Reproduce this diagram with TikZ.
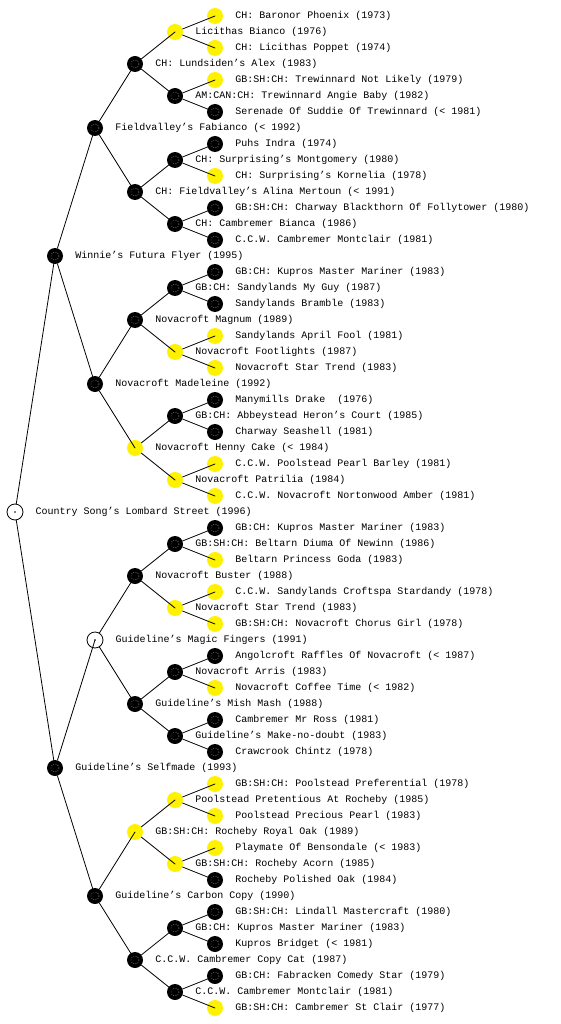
\documentclass[tikz,border=0pt]{standalone}
\usepackage{fontspec}
\setmonofont{Liberation Mono}
\usetikzlibrary{positioning}
\tikzset{
  dog/.style={circle,minimum size=16pt,inner sep=0pt},
  blk/.style={dog,fill=black,path picture={\draw[white,dotted,line width=0.4pt] (path picture bounding box.center) circle (4pt);}},
  yel/.style={dog,fill=yellow},
  wht/.style={dog,draw=black,line width=0.8pt,fill=white,path picture={\fill[black] (path picture bounding box.center) circle (0.8pt);}},
  lbl/.style={inner sep=0pt,anchor=west,font=\ttfamily\fontsize{10}{12}\selectfont},
  edge/.style={draw=black,line width=0.8pt}
}
\begin{document}
\begin{tikzpicture}[x=1pt,y=-1pt,line cap=round,line join=round]
\path[fill=white] (0,0) rectangle (560,1024);
% generation 0 and 1
\node[wht] (n) at (15,512) {}; \node[lbl,right=12pt of n] (t) {Country Song’s Lombard Street (1996)};
\node[blk] (ns) at (55,256) {}; \node[lbl,right=12pt of ns] (ts) {Winnie’s Futura Flyer (1995)};
\node[blk] (nd) at (55,768) {}; \node[lbl,right=12pt of nd] (td) {Guideline’s Selfmade (1993)};
% generation 2
\node[blk] (nss) at (95,128) {}; \node[lbl,right=12pt of nss] (tss) {Fieldvalley’s Fabianco (< 1992)};
\node[blk] (nsd) at (95,384) {}; \node[lbl,right=12pt of nsd] (tsd) {Novacroft Madeleine (1992)};
\node[wht] (nds) at (95,640) {}; \node[lbl,right=12pt of nds] (tds) {Guideline’s Magic Fingers (1991)};
\node[blk] (ndd) at (95,896) {}; \node[lbl,right=12pt of ndd] (tdd) {Guideline’s Carbon Copy (1990)};
% generation 3
\node[blk] (nsss) at (135,64) {}; \node[lbl,right=12pt of nsss] (tsss) {CH: Lundsiden’s Alex (1983)};
\node[blk] (nssd) at (135,192) {}; \node[lbl,right=12pt of nssd] (tssd) {CH: Fieldvalley’s Alina Mertoun (< 1991)};
\node[blk] (nsds) at (135,320) {}; \node[lbl,right=12pt of nsds] (tsds) {Novacroft Magnum (1989)};
\node[yel] (nsdd) at (135,448) {}; \node[lbl,right=12pt of nsdd] (tsdd) {Novacroft Henny Cake (< 1984)};
\node[blk] (ndss) at (135,576) {}; \node[lbl,right=12pt of ndss] (tdss) {Novacroft Buster (1988)};
\node[blk] (ndsd) at (135,704) {}; \node[lbl,right=12pt of ndsd] (tdsd) {Guideline’s Mish Mash (1988)};
\node[yel] (ndds) at (135,832) {}; \node[lbl,right=12pt of ndds] (tdds) {GB:SH:CH: Rocheby Royal Oak (1989)};
\node[blk] (nddd) at (135,960) {}; \node[lbl,right=12pt of nddd] (tddd) {C.C.W. Cambremer Copy Cat (1987)};
% generation 4
\node[yel] (nssss) at (175,32) {}; \node[lbl,right=12pt of nssss] (tssss) {Licithas Bianco (1976)};
\node[blk] (nsssd) at (175,96) {}; \node[lbl,right=12pt of nsssd] (tsssd) {AM:CAN:CH: Trewinnard Angie Baby (1982)};
\node[blk] (nssds) at (175,160) {}; \node[lbl,right=12pt of nssds] (tssds) {CH: Surprising’s Montgomery (1980)};
\node[blk] (nssdd) at (175,224) {}; \node[lbl,right=12pt of nssdd] (tssdd) {CH: Cambremer Bianca (1986)};
\node[blk] (nsdss) at (175,288) {}; \node[lbl,right=12pt of nsdss] (tsdss) {GB:CH: Sandylands My Guy (1987)};
\node[yel] (nsdsd) at (175,352) {}; \node[lbl,right=12pt of nsdsd] (tsdsd) {Novacroft Footlights (1987)};
\node[blk] (nsdds) at (175,416) {}; \node[lbl,right=12pt of nsdds] (tsdds) {GB:CH: Abbeystead Heron’s Court (1985)};
\node[yel] (nsddd) at (175,480) {}; \node[lbl,right=12pt of nsddd] (tsddd) {Novacroft Patrilia (1984)};
\node[blk] (ndsss) at (175,544) {}; \node[lbl,right=12pt of ndsss] (tdsss) {GB:SH:CH: Beltarn Diuma Of Newinn (1986)};
\node[yel] (ndssd) at (175,608) {}; \node[lbl,right=12pt of ndssd] (tdssd) {Novacroft Star Trend (1983)};
\node[blk] (ndsds) at (175,672) {}; \node[lbl,right=12pt of ndsds] (tdsds) {Novacroft Arris (1983)};
\node[blk] (ndsdd) at (175,736) {}; \node[lbl,right=12pt of ndsdd] (tdsdd) {Guideline’s Make-no-doubt (1983)};
\node[yel] (nddss) at (175,800) {}; \node[lbl,right=12pt of nddss] (tddss) {Poolstead Pretentious At Rocheby (1985)};
\node[yel] (nddsd) at (175,864) {}; \node[lbl,right=12pt of nddsd] (tddsd) {GB:SH:CH: Rocheby Acorn (1985)};
\node[blk] (nddds) at (175,928) {}; \node[lbl,right=12pt of nddds] (tddds) {GB:CH: Kupros Master Mariner (1983)};
\node[blk] (ndddd) at (175,992) {}; \node[lbl,right=12pt of ndddd] (tdddd) {C.C.W. Cambremer Montclair (1981)};
% generation 5
\node[yel] (nsssss) at (215,16) {}; \node[lbl,right=12pt of nsssss] (tsssss) {CH: Baronor Phoenix (1973)};
\node[yel] (nssssd) at (215,48) {}; \node[lbl,right=12pt of nssssd] (tssssd) {CH: Licithas Poppet (1974)};
\node[yel] (nsssds) at (215,80) {}; \node[lbl,right=12pt of nsssds] (tsssds) {GB:SH:CH: Trewinnard Not Likely (1979)};
\node[blk] (nsssdd) at (215,112) {}; \node[lbl,right=12pt of nsssdd] (tsssdd) {Serenade Of Suddie Of Trewinnard (< 1981)};
\node[blk] (nssdss) at (215,144) {}; \node[lbl,right=12pt of nssdss] (tssdss) {Puhs Indra (1974)};
\node[yel] (nssdsd) at (215,176) {}; \node[lbl,right=12pt of nssdsd] (tssdsd) {CH: Surprising’s Kornelia (1978)};
\node[blk] (nssdds) at (215,208) {}; \node[lbl,right=12pt of nssdds] (tssdds) {GB:SH:CH: Charway Blackthorn Of Follytower (1980)};
\node[blk] (nssddd) at (215,240) {}; \node[lbl,right=12pt of nssddd] (tssddd) {C.C.W. Cambremer Montclair (1981)};
\node[blk] (nsdsss) at (215,272) {}; \node[lbl,right=12pt of nsdsss] (tsdsss) {GB:CH: Kupros Master Mariner (1983)};
\node[blk] (nsdssd) at (215,304) {}; \node[lbl,right=12pt of nsdssd] (tsdssd) {Sandylands Bramble (1983)};
\node[yel] (nsdsds) at (215,336) {}; \node[lbl,right=12pt of nsdsds] (tsdsds) {Sandylands April Fool (1981)};
\node[yel] (nsdsdd) at (215,368) {}; \node[lbl,right=12pt of nsdsdd] (tsdsdd) {Novacroft Star Trend (1983)};
\node[blk] (nsddss) at (215,400) {}; \node[lbl,right=12pt of nsddss] (tsddss) {Manymills Drake~ (1976)};
\node[blk] (nsddsd) at (215,432) {}; \node[lbl,right=12pt of nsddsd] (tsddsd) {Charway Seashell (1981)};
\node[yel] (nsddds) at (215,464) {}; \node[lbl,right=12pt of nsddds] (tsddds) {C.C.W. Poolstead Pearl Barley (1981)};
\node[yel] (nsdddd) at (215,496) {}; \node[lbl,right=12pt of nsdddd] (tsdddd) {C.C.W. Novacroft Nortonwood Amber (1981)};
\node[blk] (ndssss) at (215,528) {}; \node[lbl,right=12pt of ndssss] (tdssss) {GB:CH: Kupros Master Mariner (1983)};
\node[yel] (ndsssd) at (215,560) {}; \node[lbl,right=12pt of ndsssd] (tdsssd) {Beltarn Princess Goda (1983)};
\node[yel] (ndssds) at (215,592) {}; \node[lbl,right=12pt of ndssds] (tdssds) {C.C.W. Sandylands Croftspa Stardandy (1978)};
\node[yel] (ndssdd) at (215,624) {}; \node[lbl,right=12pt of ndssdd] (tdssdd) {GB:SH:CH: Novacroft Chorus Girl (1978)};
\node[blk] (ndsdss) at (215,656) {}; \node[lbl,right=12pt of ndsdss] (tdsdss) {Angolcroft Raffles Of Novacroft (< 1987)};
\node[yel] (ndsdsd) at (215,688) {}; \node[lbl,right=12pt of ndsdsd] (tdsdsd) {Novacroft Coffee Time (< 1982)};
\node[blk] (ndsdds) at (215,720) {}; \node[lbl,right=12pt of ndsdds] (tdsdds) {Cambremer Mr Ross (1981)};
\node[blk] (ndsddd) at (215,752) {}; \node[lbl,right=12pt of ndsddd] (tdsddd) {Crawcrook Chintz (1978)};
\node[yel] (nddsss) at (215,784) {}; \node[lbl,right=12pt of nddsss] (tddsss) {GB:SH:CH: Poolstead Preferential (1978)};
\node[yel] (nddssd) at (215,816) {}; \node[lbl,right=12pt of nddssd] (tddssd) {Poolstead Precious Pearl (1983)};
\node[yel] (nddsds) at (215,848) {}; \node[lbl,right=12pt of nddsds] (tddsds) {Playmate Of Bensondale (< 1983)};
\node[blk] (nddsdd) at (215,880) {}; \node[lbl,right=12pt of nddsdd] (tddsdd) {Rocheby Polished Oak (1984)};
\node[blk] (ndddss) at (215,912) {}; \node[lbl,right=12pt of ndddss] (tdddss) {GB:SH:CH: Lindall Mastercraft (1980)};
\node[blk] (ndddsd) at (215,944) {}; \node[lbl,right=12pt of ndddsd] (tdddsd) {Kupros Bridget (< 1981)};
\node[blk] (ndddds) at (215,976) {}; \node[lbl,right=12pt of ndddds] (tddddds) {GB:CH: Fabracken Comedy Star (1979)};
\node[yel] (nddddd) at (215,1008) {}; \node[lbl,right=12pt of nddddd] (tddddd) {GB:SH:CH: Cambremer St Clair (1977)};
% parent to sire and dam
\foreach \p in {n,ns,nd,nss,nsd,nds,ndd,nsss,nssd,nsds,nsdd,ndss,ndsd,ndds,nddd,
  nssss,nsssd,nssds,nssdd,nsdss,nsdsd,nsdds,nsddd,ndsss,ndssd,ndsds,ndsdd,nddss,nddsd,nddds,ndddd}
  {\draw[edge] (\p) -- (\p s.center); \draw[edge] (\p) -- (\p d.center);}
\end{tikzpicture}
\end{document}
